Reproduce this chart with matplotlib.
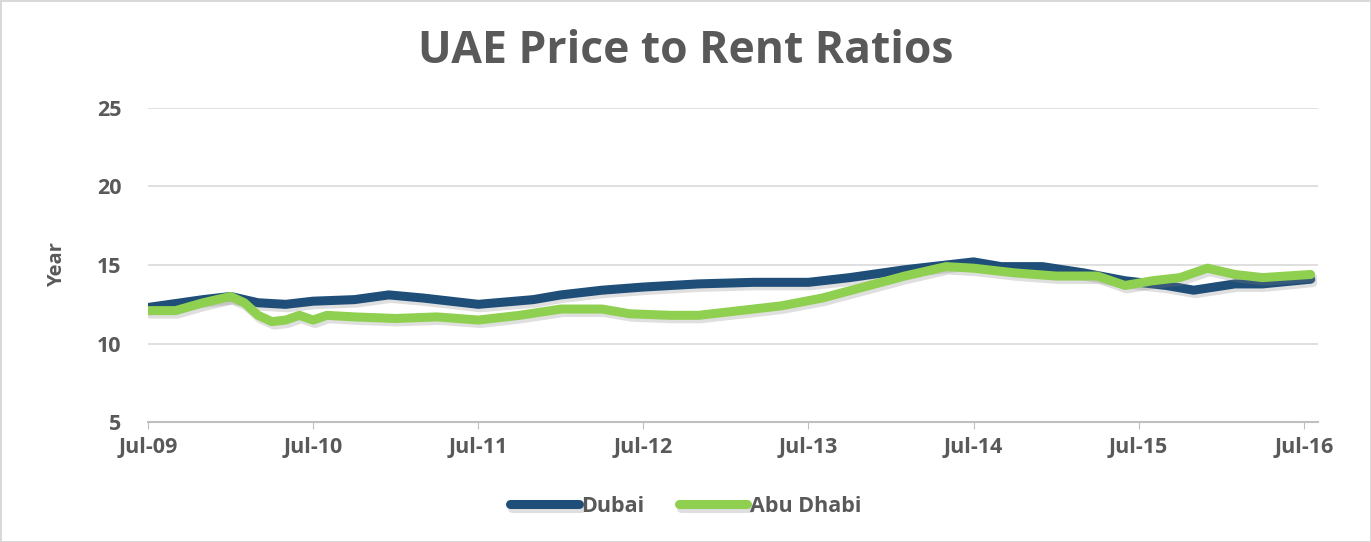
import matplotlib
matplotlib.use("Agg")
import matplotlib.pyplot as plt
import matplotlib.patheffects as pe

# --- data (month offsets from Jul-09) ---
dubai_months = [0, 4, 6, 8, 10, 12, 15, 17.5, 20, 24, 28, 30, 33, 36, 40, 44, 48,
                51, 55, 58, 60, 62, 65, 68, 71, 74, 76, 79, 81, 84.5]
dubai_vals = [12.3, 12.8, 13.0, 12.6, 12.5, 12.7, 12.8, 13.1, 12.9, 12.5, 12.8, 13.1,
              13.4, 13.6, 13.8, 13.9, 13.9, 14.2, 14.7, 15.0, 15.2, 14.9, 14.9, 14.5,
              14.0, 13.7, 13.4, 13.8, 13.8, 14.1]

abu_months = [0, 2, 4, 6, 7, 8, 9, 10, 11, 12, 13, 15, 18, 21, 24, 27, 30, 33, 35,
              38, 40, 43, 46, 49, 52, 55, 58, 60, 63, 66, 69, 71, 73, 75, 77, 79, 81, 84.5]
abu_vals = [12.1, 12.1, 12.6, 13.0, 12.6, 11.8, 11.4, 11.5, 11.8, 11.5, 11.8, 11.7,
            11.6, 11.7, 11.5, 11.8, 12.2, 12.2, 11.9, 11.8, 11.8, 12.1, 12.4, 12.9,
            13.6, 14.3, 14.9, 14.8, 14.5, 14.3, 14.3, 13.7, 14.0, 14.2, 14.8, 14.4,
            14.2, 14.4]

tick_months = [0, 12, 24, 36, 48, 60, 72, 84]
tick_labels = ["Jul-09", "Jul-10", "Jul-11", "Jul-12", "Jul-13", "Jul-14", "Jul-15", "Jul-16"]
y_ticks = [5, 10, 15, 20, 25]

dubai_color = "#1F4E79"
abu_color = "#8FD050"
text_color = "#595959"

plt.rcParams['font.family'] = ['Open Sans', 'DejaVu Sans']

fig = plt.figure(figsize=(13.71, 5.42), dpi=100)
fig.patch.set_edgecolor("#D9D9D9")
fig.patch.set_linewidth(2)
ax = fig.add_axes([0.108, 0.221, 0.853, 0.58])

shadow = [pe.SimpleLineShadow(offset=(1.5, -2.5), shadow_color="gray", alpha=0.25), pe.Normal()]
ax.plot(dubai_months, dubai_vals, color=dubai_color, lw=6.5, label="Dubai",
        solid_capstyle="round", path_effects=shadow, zorder=3)
ax.plot(abu_months, abu_vals, color=abu_color, lw=6.5, label="Abu Dhabi",
        solid_capstyle="round", path_effects=shadow, zorder=4)

ax.set_xlim(0, 85)
ax.set_ylim(5, 25)
ax.set_yticks(y_ticks)
ax.set_xticks(tick_months)
ax.set_xticklabels(tick_labels)
ax.grid(axis="y", color="#D9D9D9", lw=1.2)
ax.set_axisbelow(True)
for s in ["top", "right", "left"]:
    ax.spines[s].set_visible(False)
ax.spines["bottom"].set_color("#BFBFBF")
ax.spines["bottom"].set_linewidth(1.5)
ax.tick_params(axis="y", length=0, pad=19, labelsize=15.5, labelcolor=text_color)
ax.tick_params(axis="x", length=5, color="#BFBFBF", pad=6, labelsize=15.5, labelcolor=text_color)
for lab in ax.get_xticklabels() + ax.get_yticklabels():
    lab.set_fontweight("bold")

ax.set_ylabel("Year", fontsize=14.5, fontweight="bold", color=text_color, labelpad=22)
fig.suptitle("UAE Price to Rent Ratios", x=0.5, y=0.905, va="center", fontsize=32,
             fontweight="bold", color=text_color)

leg = fig.legend(loc="center", bbox_to_anchor=(0.5, 0.066), ncol=2, frameon=False,
                 fontsize=15.5, handlelength=3.2, handletextpad=0.1, columnspacing=1.6)
for t in leg.get_texts():
    t.set_color(text_color)
    t.set_fontweight("bold")

fig.savefig("out.png", dpi=100)
